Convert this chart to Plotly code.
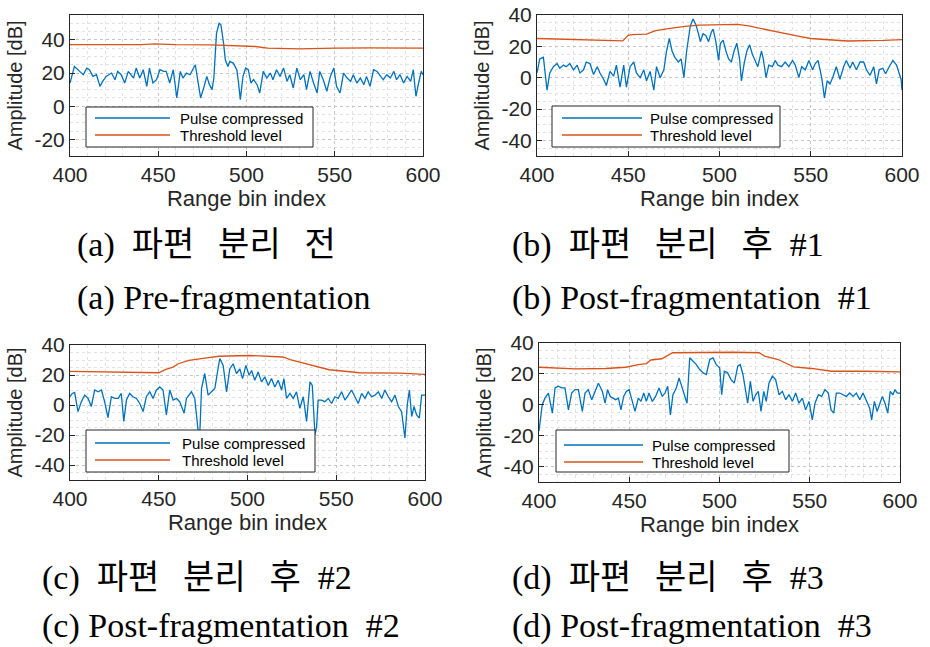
import plotly.graph_objects as go

# ---------------- data (range bin, amplitude dB) ----------------
a_pulse = [(400,14),(402.5,24),(405.5,21),(407.5,19),(409.5,23),(411,22),(413,18),(415,19),(417,12),(418.5,15),
           (420.5,18),(423.5,20),(425.5,16),(427,21),(429,19),(431,14),(433,21),(436,17),(437.5,23),(439.5,17),
           (441.5,22),(443.5,12),(445,23),(447,14),(449,16),(451,22),(453,21),(454.5,21),(456.5,14),(458.5,22),
           (460.5,5),(462.5,21),(464,17),(466,20),(468,19),(471,25),(472.5,15),(474,5),(476,12),(477.5,18),
           (479,13),(480.5,10),(481.5,17),(483,44),(484.5,50),(485.5,49),(487,38),(488,28),(489.5,24),(490.5,27),
           (492.5,26),(494.5,22),(495.5,14),(496.5,4),(498,18),(499.5,23),(501,22),(502.5,14),(504,16),(506,13),
           (507.5,8),(509.5,21),(511.5,17),(513.5,20),(515,16),(517,22),(519,18),(521,23),(523,15),(524.5,19),
           (526.5,11),(528.5,23),(530.5,16),(532.5,19),(534,10),(536,21),(538,14),(540,8),(541.5,21),(543.5,16),
           (545.5,9),(547.5,18),(549.5,23),(551,12),(553,8),(555,20),(557,17),(559,15),(560.5,19),(562.5,14),
           (564.5,17),(566.5,13),(568,18),(570,12),(572,22),(574,21),(576,18),(577.5,16),(579.5,19),(581.5,17),
           (583.5,21),(585,16),(587,19),(589,14),(591,18),(593,15),(594.5,22),(596,6),(597.5,14),(599,21),(600,19)]
a_thr = [(400,37.2),(420,37),(440,37.1),(448,37.6),(460,37.2),(480,37),(495,36.3),(505,36),(512,35),
         (530,34.6),(550,35),(570,35.2),(600,35)]

b_pulse = [(400,3),(401.5,12),(403.5,13),(405.5,-8),(407,3),(409,7),(411,9),(412.5,6),(414.5,8),(416,7),
           (418,9),(420,5),(422,8),(423.5,3),(425.5,5),(427,10),(429,9),(431,2),(433,7),(434.5,3),
           (436.5,-1),(438,-5),(440,4),(442,1),(443.5,8),(445.5,-6),(447.5,8),(449,-6),(451,7),(453,10),
           (454.5,3),(456.5,0),(458.5,5),(460,-2),(462,4),(464,-8),(465.5,7),(467.5,0),(469.5,5),(471,17),
           (472.5,25),(474,17),(475.5,13),(477.5,10),(479,12),(480.5,0),(482,17),(484,33),(485.5,37.5),(487,34),
           (488.5,28),(489.5,23),(491,28),(492.5,27),(494,23),(495.5,29),(496.5,31),(498,23),(499.5,11),(500.5,22),
           (502,24),(503.5,17),(505,12),(506.5,10),(508,17),(509.5,22),(511,12),(512,-2),(513.5,9),(515,17),
           (516.5,21),(518,15),(519.5,11),(521,7),(523,17),(524,12),(525.5,0),(527,8),(529,7),(530.5,11),
           (532,8),(534,7),(536,10),(538,7),(540,11),(541.5,8),(543.5,0),(545,7),(547,5),(549,11),
           (551,5),(552.5,9),(554,11),(556,0),(557.5,-13),(559,-2),(560.5,-4),(562,0),(564,7),(566,-1),
           (568,7),(569.5,11),(571.5,6),(573,10),(575,5),(577,10),(579,10),(580.5,5),(582.5,1.5),(584.5,7),
           (586,-4),(587.5,5),(589.5,6),(591,2.5),(593,7),(595,11),(597,8),(598.5,2.5),(599.5,-1),(600,-8)]
b_thr = [(400,25),(430,24),(447,23.5),(450,27),(452,27.5),(460,27.8),(465,30),(472,31.3),(481,32.8),
         (489,33.5),(505,34),(510,34),(516,33),(522,31.5),(528,30),(535,28.5),(543,26.5),(550,25),
         (560,24),(570,23.4),(590,23.8),(600,24.3)]

c_pulse = [(400,5.5),(401.3,7.7),(402.6,8.4),(404.5,-4.4),(406.4,2.2),(408.3,6.6),(410.2,4.4),(412,-1),
           (413.9,10),(415.8,8.8),(417.7,10),(419.5,2.2),(421.4,-8.4),(423.3,5.5),(425.2,4.4),(427.1,4.4),
           (428.9,7.7),(430.3,-11),(431.8,3.3),(433.6,7.7),(435.5,5.5),(437.4,4.4),(439.3,1),(441.2,-4.4),
           (443,5.5),(444.9,8.8),(446.8,4.4),(448.7,10),(450.6,12),(452.4,10),(454.3,-6.6),(456.2,10),
           (458.1,3.3),(460,4.4),(461.8,2.2),(464.3,-5.5),(465.6,4.4),(468.4,8.8),(470.3,4.4),(472.2,-17.6),
           (473.1,-20),(474.1,11),(475.9,21),(477.8,6.6),(479.7,8.8),(481.6,11),(483.5,25),(484.4,31),
           (486.3,26.4),(488.2,8.8),(490,24),(491.9,27.5),(493.8,21),(495.7,24),(497.2,17.6),(499.1,26.4),
           (500.9,19.8),(502.3,23),(504.1,16.5),(506,22),(507.9,15.4),(509.8,18.7),(511.7,13),(513.5,17.6),
           (515.4,12),(517.3,16.5),(519.2,10),(520.5,17.6),(522,4.4),(523.9,7.7),(525.8,4.4),(527.6,8.8),
           (529.5,-2.2),(531.4,5.5),(533.3,-11),(535.2,15.4),(536.5,13),(538,-19.8),(538.9,-15),(539.8,3.3),
           (541.7,3.3),(543.6,2.2),(545.5,4.4),(547.4,1),(549.2,5.5),(551.1,4.4),(553,8.8),(554.9,3.3),
           (556.8,6.6),(558.6,10),(560.5,5.5),(562.4,1),(564.3,7.7),(566.2,4.4),(568,8.8),(569.9,5.5),
           (571.8,6.6),(573.7,8.8),(575.6,4.4),(577.4,10),(579.3,5.5),(581.2,2.2),(583.1,6.6),(585,-1),
           (586.8,-4.4),(588.7,-22),(590,0),(591.2,10),(592.5,-7.7),(593.8,-1),(595.3,-6.6),(596.8,-8.8),
           (598.1,6.6),(600,6.6)]
c_thr = [(400,22.4),(417,22),(435,21.5),(450,21.5),(454,23.7),(458,25.3),(461,27.5),(467,29.7),(477,31.4),
         (484,32.5),(501,33),(520,32),(524,30.3),(533,27.5),(546,23.5),(559,22),(563,21.5),(586,21.3),(600,20.4)]

d_pulse = [(400,-17),(401.8,0),(403.3,4.3),(405.2,7.6),(407.4,-5.4),(408.9,10.9),(410.7,12),(412.6,10.9),
           (414.4,10.9),(416.3,-3.3),(418.1,7.6),(419.9,9.8),(421.8,9.8),(424,-4.3),(425.5,7.6),(427.3,9.8),
           (429.2,3.3),(431,8.7),(432.9,14),(435.1,8.7),(436.6,1),(438,9.8),(439.5,5.4),(441,4.3),
           (442.5,3.3),(444,4.3),(445.4,-3.3),(446.9,5.4),(448.4,8.7),(449.9,9.8),(451.3,4.3),(453.2,-4.3),
           (455,4.3),(456.5,2.2),(458,7.6),(459.5,2.2),(460.9,7.6),(462.8,2.2),(464.6,5.4),(466.5,10.9),
           (468.3,5.4),(469.8,7.6),(471.3,12),(472.8,-6.5),(474.2,6.5),(476.1,10.9),(477.6,17.4),(479,12),
           (480.5,7.6),(482,1),(483.5,30.4),(485.3,28.3),(487.2,26),(489,22.8),(490.9,20.7),(492.7,19.6),
           (494.6,29.3),(496.4,30.4),(498.2,26),(500.1,24),(501.2,6.5),(502.7,21.7),(504.5,20.7),(506.4,16.3),
           (508.2,14),(510.1,25),(511.5,26),(513,19.6),(514.5,8.7),(515.6,1),(517.1,15.2),(518.6,2.2),
           (520,6.5),(521.5,8.7),(523,-4.3),(524.5,8.7),(525.9,2.2),(527.4,14),(529.3,18.5),(531.1,16.3),
           (533,6.5),(534.8,8.7),(536.7,3.3),(538.5,6.5),(540.4,2.2),(542.2,7.6),(544,1),(545.9,4.3),
           (547.7,-3.3),(549.6,2.2),(551.4,-9.8),(552.9,1),(554.8,6.5),(556.6,5.4),(558.4,9.8),(560.3,7.6),
           (561.8,-3.3),(563.3,-5.4),(564.7,7.6),(566.6,7.6),(568.4,6.5),(570.3,5.4),(572.1,7.6),(574,5.4),
           (575.8,7.6),(577.7,3.3),(579.5,7.6),(581.3,3.3),(583.2,-2.2),(584.3,-9.8),(585.8,2.2),(587.3,-4.3),
           (588.7,0),(590.2,5.4),(591.7,1),(593.2,-5.4),(594.6,8.7),(596.1,6.5),(597.2,9.8),(598.5,7.6),(600,7.6)]
d_thr = [(400,24.3),(420,23.3),(437,23.5),(448,24.3),(455,26),(459.5,26.7),(462,29),(468,29.8),(474,33.7),
         (488,34),(507,34),(522,33.7),(525,31.5),(532.5,29.3),(537,27),(541,24.6),(551,23.5),(558,22.4),
         (562,21.7),(581,21.7),(600,21.3)]

x_ticks = [400, 450, 500, 550, 600]
y_ticks_a = [-20, 0, 20, 40]
y_ticks_bcd = [-40, -20, 0, 20, 40]
series_names = ["Pulse compressed", "Threshold level"]
SP = "\u2002\u2009"
captions_kr = ["(a)\u2002파편" + SP + "분리" + SP + "전", "(b)\u2002파편" + SP + "분리" + SP + "후\u2002#1",
               "(c)\u2002파편" + SP + "분리" + SP + "후\u2002#2", "(d)\u2002파편" + SP + "분리" + SP + "후\u2002#3"]
captions_en = ["(a) Pre-fragmentation", "(b) Post-fragmentation\u2002#1",
               "(c) Post-fragmentation\u2002#2", "(d) Post-fragmentation\u2002#3"]

# ---------------- layout helpers ----------------
W, H = 930, 647
def fx(p): return p / W
def fy(p): return 1 - p / H

BLUE = "#0072BD"
ORANGE = "#D95319"
AX = "#262626"
SANS = "Liberation Sans, Arial, sans-serif"
SERIF = "Liberation Serif, Times New Roman, Noto Sans CJK KR, serif"

# plot boxes in pixels: (left, top, right, bottom)
boxes = [(70, 15, 423, 156), (537, 15, 902, 156), (70, 345, 425, 480), (539, 343, 900, 482)]
yranges = [[-30, 55], [-50, 40], [-50, 40], [-50, 40]]
yticks = [y_ticks_a, y_ticks_bcd, y_ticks_bcd, y_ticks_bcd]
# legend boxes (left, top, right, bottom), line x0, x1, text x, line y1, y2
legends = [(86, 107, 313, 147, 95, 170, 178, 118, 135),
           (552, 106, 780, 147, 562, 642, 648, 118, 135),
           (86, 430, 315, 472, 95, 170, 180, 443, 460),
           (556, 430, 789, 472, 564, 643, 650, 445, 462)]
cap_pos = [(75, 245, 298), (510, 245, 298), (40, 578, 626), (510, 578, 626)]

fig = go.Figure()
pulses = [a_pulse, b_pulse, c_pulse, d_pulse]
thrs = [a_thr, b_thr, c_thr, d_thr]

shapes, annotations = [], []
for i in range(4):
    sfx = "" if i == 0 else str(i + 1)
    xr, yr = "x" + sfx, "y" + sfx
    px_, py_ = zip(*pulses[i])
    tx_, ty_ = zip(*thrs[i])
    fig.add_trace(go.Scatter(x=list(px_), y=list(py_), mode="lines", name=series_names[0],
                             line=dict(color=BLUE, width=1.3), xaxis=xr, yaxis=yr, showlegend=False))
    fig.add_trace(go.Scatter(x=list(tx_), y=list(ty_), mode="lines", name=series_names[1],
                             line=dict(color=ORANGE, width=1.3), xaxis=xr, yaxis=yr, showlegend=False))
    l, t, r, b = boxes[i]
    grid = dict(showgrid=True, gridcolor="#c4c4c4", griddash="dot", gridwidth=1)
    fig.update_layout(**{
        "xaxis" + sfx: dict(domain=[fx(l), fx(r)], range=[400, 600], anchor=yr, automargin=False,
                            tickvals=x_ticks, ticks="inside", ticklen=5, tickcolor=AX,
                            showline=True, mirror=True, linecolor=AX, linewidth=1, zeroline=False,
                            tickfont=dict(family=SANS, size=21, color=AX),
                            title=dict(text="Range bin index", font=dict(family=SANS, size=22, color=AX),
                                       standoff=4),
                            minor=dict(dtick=10, tick0=400, showgrid=True, gridcolor="#e2e2e2",
                                       griddash="dot", ticks=""),
                            **grid),
        "yaxis" + sfx: dict(domain=[fy(b), fy(t)], range=yranges[i], anchor=xr, automargin=False,
                            tickvals=yticks[i], ticktext=[str(v) for v in yticks[i]],
                            ticks="inside", ticklen=5, tickcolor=AX,
                            showline=True, mirror=True, linecolor=AX, linewidth=1, zeroline=False,
                            tickfont=dict(family=SANS, size=21, color=AX),
                            title=dict(text="Amplitude [dB]", font=dict(family=SANS, size=20, color=AX),
                                       standoff=6),
                            minor=dict(dtick=5, tick0=0, showgrid=True, gridcolor="#e2e2e2",
                                       griddash="dot", ticks=""),
                            **grid),
    })
    # manual legend
    lx0, ly0, lx1, ly1, s0, s1, tx, y1, y2 = legends[i]
    shapes.append(dict(type="rect", xref="paper", yref="paper", x0=fx(lx0), x1=fx(lx1), y0=fy(ly1), y1=fy(ly0),
                       fillcolor="white", line=dict(color="#262626", width=1), layer="above"))
    for yy, col, name in ((y1, BLUE, series_names[0]), (y2, ORANGE, series_names[1])):
        shapes.append(dict(type="line", xref="paper", yref="paper", x0=fx(s0), x1=fx(s1), y0=fy(yy), y1=fy(yy),
                           line=dict(color=col, width=1.3), layer="above"))
        annotations.append(dict(text=name, xref="paper", yref="paper", x=fx(tx), y=fy(yy),
                                xanchor="left", yanchor="middle", showarrow=False,
                                font=dict(family=SANS, size=15, color="black")))
    cx, cy1, cy2 = cap_pos[i]
    annotations.append(dict(text=captions_kr[i], xref="paper", yref="paper", x=fx(cx), y=fy(cy1),
                            xanchor="left", yanchor="middle", showarrow=False,
                            font=dict(family=SERIF, size=34, color="black")))
    annotations.append(dict(text=captions_en[i], xref="paper", yref="paper", x=fx(cx), y=fy(cy2),
                            xanchor="left", yanchor="middle", showarrow=False,
                            font=dict(family=SERIF, size=34, color="black")))

fig.update_layout(width=W, height=H, margin=dict(l=0, r=0, t=0, b=0, autoexpand=False),
                  paper_bgcolor="white", plot_bgcolor="white", showlegend=False,
                  shapes=shapes, annotations=annotations)

fig.write_html("out.html")
